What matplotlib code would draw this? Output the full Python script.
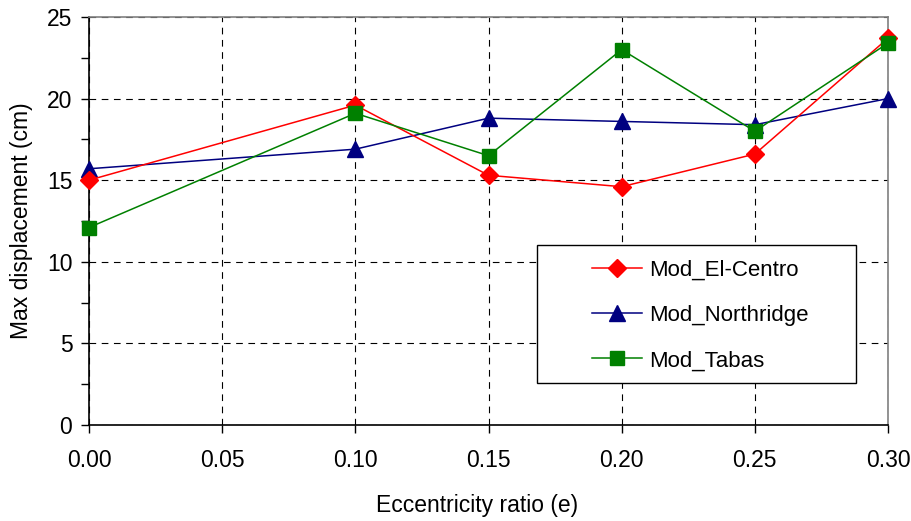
import matplotlib.pyplot as plt
from matplotlib.patches import Rectangle
from matplotlib.ticker import MultipleLocator

plt.rcParams['font.family'] = ['Liberation Sans', 'DejaVu Sans']

ecc = [0.00, 0.10, 0.15, 0.20, 0.25, 0.30]
el_centro = [15.0, 19.6, 15.3, 14.6, 16.6, 23.7]
northridge = [15.7, 16.9, 18.8, 18.6, 18.4, 20.0]
tabas = [12.1, 19.1, 16.5, 23.0, 18.0, 23.4]

fig = plt.figure(figsize=(9.12, 5.21), dpi=100)
ax = fig.add_axes([0.0976, 0.1843, 0.8761, 0.7831])

ax.plot(ecc, el_centro, color='#FF0000', marker='D', markersize=9, lw=1.1,
        label='Mod_El-Centro', clip_on=False, zorder=4)
ax.plot(ecc, northridge, color='#000080', marker='^', markersize=11, lw=1.1,
        label='Mod_Northridge', clip_on=False, zorder=3)
ax.plot(ecc, tabas, color='#008000', marker='s', markersize=10, lw=1.1,
        label='Mod_Tabas', clip_on=False, zorder=5)

ax.set_xlim(0, 0.30)
ax.set_ylim(0, 25)
ax.xaxis.set_major_locator(MultipleLocator(0.05))
ax.yaxis.set_major_locator(MultipleLocator(5))
ax.yaxis.set_minor_locator(MultipleLocator(2.5))
ax.set_xticks([0, 0.05, 0.10, 0.15, 0.20, 0.25, 0.30])
ax.set_xticklabels(['0.00', '0.05', '0.10', '0.15', '0.20', '0.25', '0.30'])

ax.grid(True, which='major', color='black', lw=0.8, linestyle=(0, (6, 5)))
ax.set_axisbelow(True)

ax.tick_params(axis='both', which='both', direction='out', length=6,
               width=1, labelsize=16.5)
ax.tick_params(axis='x', pad=11)
ax.tick_params(axis='y', pad=6)

ax.spines['left'].set_color('black')
ax.spines['bottom'].set_color('black')
ax.spines['top'].set_color('#808080')
ax.spines['right'].set_color('#808080')
for s in ax.spines.values():
    s.set_linewidth(1.2)

ax.set_xlabel('Eccentricity ratio (e)', fontsize=16.5, labelpad=16)
ax.xaxis.label.set_x(0.486)
ax.set_ylabel('Max displacement (cm)', fontsize=16.5, labelpad=10)

# legend box drawn separately so the entries can sit inset from its edge
box = Rectangle((0.561, 0.103), 0.399, 0.338, transform=ax.transAxes,
                facecolor='white', edgecolor='black', lw=1, zorder=6)
ax.add_patch(box)
leg = ax.legend(loc='upper left', bbox_to_anchor=(0.6295, 0.406),
                frameon=False, fontsize=16, handlelength=2.25,
                handletextpad=0.3, labelspacing=1.1, borderpad=0,
                borderaxespad=0)
leg.set_zorder(7)

fig.savefig('out.png', dpi=100)
